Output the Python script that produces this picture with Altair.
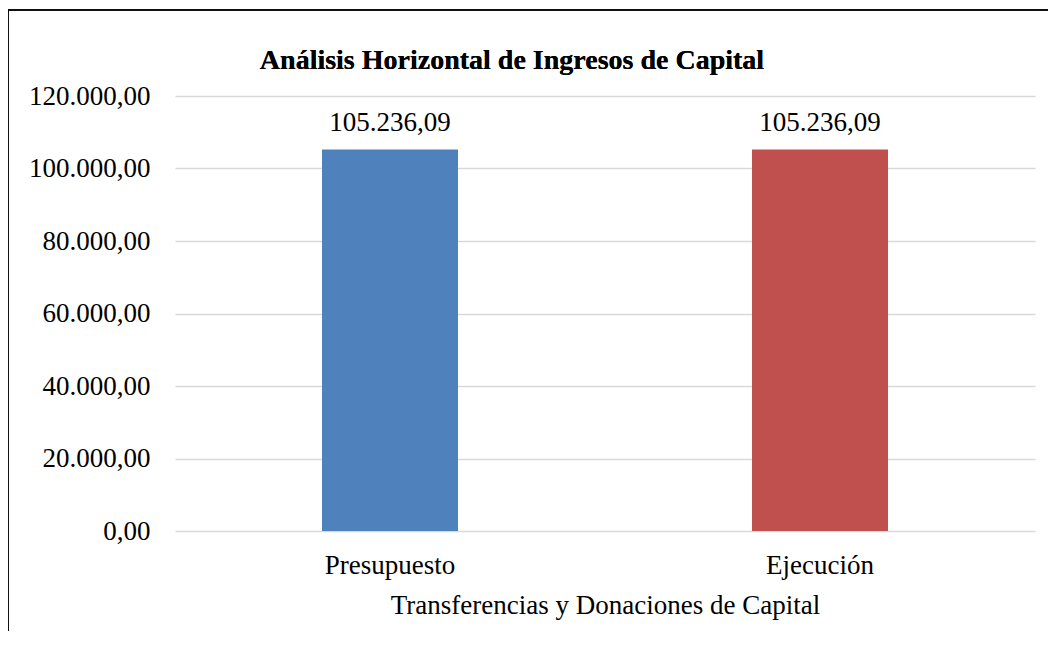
import altair as alt
import pandas as pd

categories = ["Presupuesto", "Ejecución"]
values = [105236.09, 105236.09]
colors = ["#4F81BD", "#C0504D"]
y_ticks = [0, 20000, 40000, 60000, 80000, 100000, 120000]

def eu(v):
    s = f"{v:,.2f}"
    return s.replace(",", "#").replace(".", ",").replace("#", ".")

df = pd.DataFrame({"cat": categories, "val": values, "label": [eu(v) for v in values]})

FONT = "Liberation Serif"
W, H = 860, 435

base = alt.Chart(df)

bars = base.mark_bar(size=136).encode(
    x=alt.X("cat:N", sort=categories,
            axis=alt.Axis(title="Transferencias y Donaciones de Capital", labelAngle=0,
                          domain=False, ticks=False, labelPadding=21, titlePadding=14,
                          labelFont=FONT, labelFontSize=27, labelColor="black",
                          titleFont=FONT, titleFontSize=27, titleColor="black",
                          titleFontWeight="normal")),
    y=alt.Y("val:Q", scale=alt.Scale(domain=[0, 120000], nice=False),
            axis=alt.Axis(title=None, values=y_ticks, domain=False, ticks=False,
                          labelPadding=25, labelFont=FONT, labelFontSize=27,
                          labelColor="black", gridColor="#D9D9D9", gridWidth=1.5,
                          labelExpr="replace(replace(replace(format(datum.value, ',.2f'), regexp(',', 'g'), '#'), regexp('\\\\.', 'g'), ','), regexp('#', 'g'), '.')")),
    color=alt.Color("cat:N", scale=alt.Scale(domain=categories, range=colors), legend=None),
)

text = base.mark_text(baseline="alphabetic", dy=-19, font=FONT, fontSize=27, color="black").encode(
    x=alt.X("cat:N", sort=categories),
    y="val:Q",
    text="label:N",
)

title = alt.Chart(df).mark_text(
    text="Análisis Horizontal de Ingresos de Capital", font=FONT, fontSize=28,
    fontWeight="bold", color="black", align="center", baseline="alphabetic",
).encode(x=alt.value(337), y=alt.value(-27))

frame_top = alt.Chart(df).mark_rule(color="black", strokeWidth=1.5).encode(
    x=alt.value(-167), x2=alt.value(W + 20), y=alt.value(-86))
frame_left = alt.Chart(df).mark_rule(color="black", strokeWidth=1.5).encode(
    x=alt.value(-167), y=alt.value(-86), y2=alt.value(H + 120))

chart = alt.layer(bars, text, title, frame_top, frame_left).properties(
    width=W, height=H,
    autosize=alt.AutoSizeParams(type="none"),
    padding={"left": 167, "top": 88, "right": 13, "bottom": 100},
).configure_view(stroke=None)

chart.save("out.html", embed_options={"renderer": "svg", "actions": False})
